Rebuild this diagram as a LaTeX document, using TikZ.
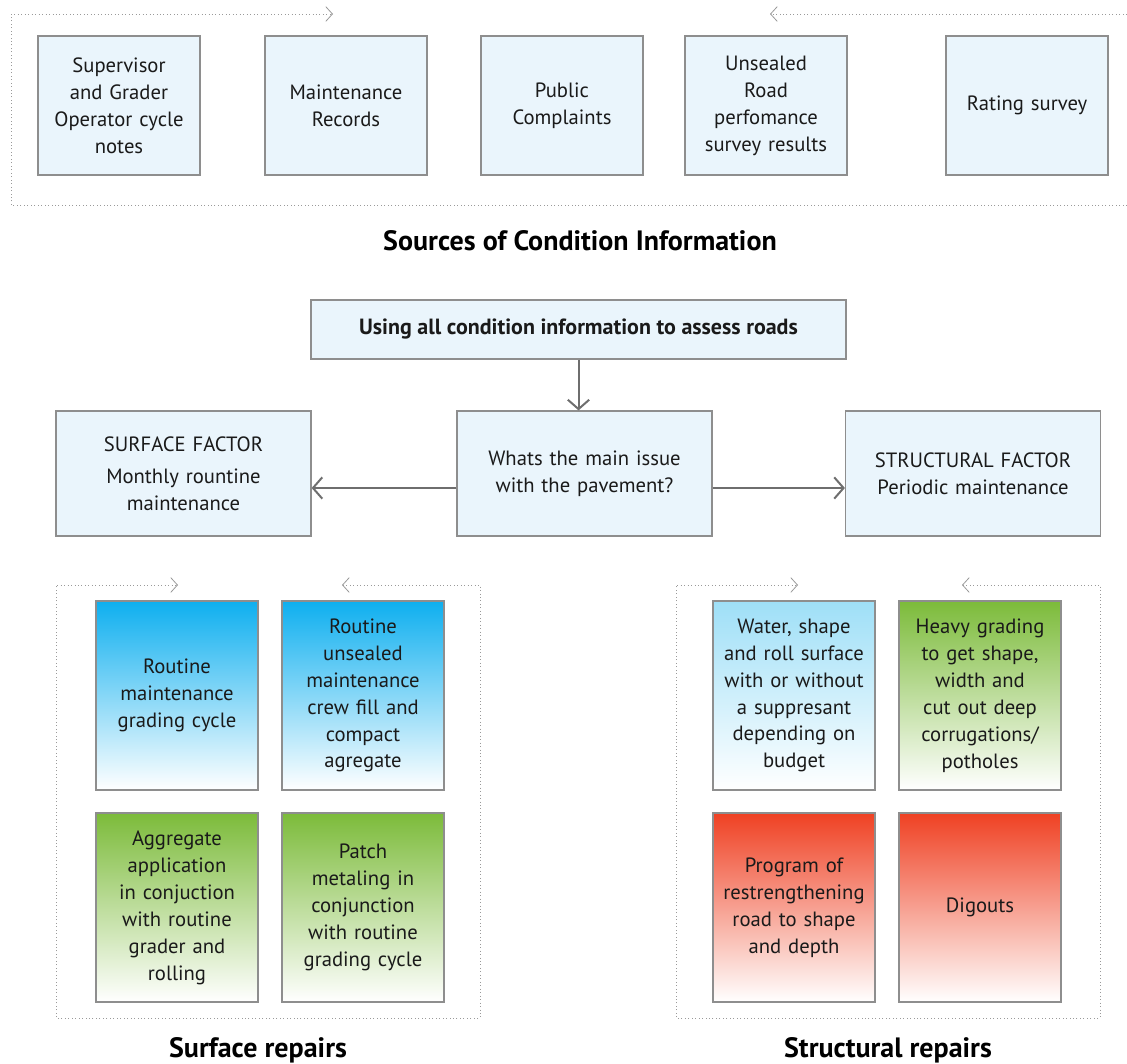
\documentclass[tikz,border=0pt]{standalone}
\usepackage{fontspec}
\setmainfont{PT Sans}
\usetikzlibrary{arrows.meta}
\definecolor{boxfill}{HTML}{EAF5FC}
\definecolor{boxline}{HTML}{8E8E8E}
\definecolor{txt}{HTML}{1A1A1A}
\definecolor{arrowgray}{HTML}{6E6E6E}
\definecolor{dotgray}{HTML}{9A9A9A}
\definecolor{cyanT}{HTML}{0EAFEF}
\definecolor{lblueT}{HTML}{9EDFF7}
\definecolor{greenT}{HTML}{7CBB3A}
\definecolor{redT}{HTML}{EF4123}
\tikzset{
  base/.style={draw=boxline, line width=0.9pt, align=center, text=txt, inner sep=0pt, font=\fontsize{15.5}{20.2}\selectfont},
  srcbox/.style={base, fill=boxfill, minimum width=121.5pt, minimum height=104.25pt, text width=118pt},
  midbox/.style={base, fill=boxfill, minimum width=191.25pt, minimum height=93.75pt, text width=185pt},
  repbox/.style={base, minimum width=121.5pt, minimum height=141.75pt, text width=118pt},
  bluegrad/.style={repbox, top color=cyanT, bottom color=white},
  lbluegrad/.style={repbox, top color=lblueT, bottom color=white},
  greengrad/.style={repbox, top color=greenT, bottom color=white},
  redgrad/.style={repbox, top color=redT, bottom color=white},
  frame/.style={draw=dotgray, line width=0.6pt, dotted, {Straight Barb[length=5pt,width=11pt,line width=0.6pt]}-{Straight Barb[length=5pt,width=11pt,line width=0.6pt]}},
  frameend/.style={draw=dotgray, line width=0.6pt, dotted, -{Straight Barb[length=5pt,width=11pt,line width=0.6pt]}},
  flow/.style={draw=arrowgray, line width=1.5pt, -{Straight Barb[length=7pt,width=16pt,line width=1.5pt]}},
  title/.style={font=\fontsize{21}{24}\selectfont\bfseries, text=black}
}
\begin{document}
\begin{tikzpicture}[x=0.75pt,y=-0.75pt]
\useasboundingbox (0,0) rectangle (1127,1063);
% top frame
\coordinate (tfA) at (1127,14);
\coordinate (tfB) at (770,14);
\coordinate (tfC) at (1127,205);
\coordinate (tfD) at (11,205);
\coordinate (tfE) at (11,14);
\coordinate (tfF) at (333,14);
\draw[frameend] (tfA) -- (tfB);
\draw[frameend] (tfC) -- (tfD) -- (tfE) -- (tfF);
% source boxes
\node[srcbox] (s1) at (119,105.5) {Supervisor\\and Grader\\Operator cycle\\notes};
\node[srcbox] (s2) at (346,105.5) {Maintenance\\Records};
\node[srcbox] (s3) at (562,105.5) {Public\\Complaints};
\node[srcbox] (s4) at (766,105.5) {Unsealed\\Road\\perfomance\\survey results};
\node[srcbox] (s5) at (1027,105.5) {Rating survey};
\node[title] (t1) at (580,241) {Sources of Condition Information};
% assess
\node[base, fill=boxfill, minimum width=401.25pt, minimum height=44.25pt, font=\fontsize{16.5}{20}\selectfont\bfseries] (using) at (578.5,329.5) {Using all condition information to assess roads};
\node[midbox] (mid) at (584.5,473.5) {Whats the main issue\\with the pavement?};
\node[midbox] (surf) at (183.5,473.5) {SURFACE FACTOR\\[4pt]Monthly rountine\\maintenance};
\node[midbox] (struc) at (973,473.5) {STRUCTURAL FACTOR\\Periodic maintenance};
\draw[flow] (using.south) -- (using.south |- mid.north);
\draw[flow] (mid.west |- 0,488) -- (surf.east |- 0,488);
\draw[flow] (mid.east |- 0,488) -- (struc.west |- 0,488);
% surface repairs
\coordinate (sfA) at (342,585);
\coordinate (sfB) at (480,585);
\coordinate (sfC) at (480,1018);
\coordinate (sfD) at (56,1018);
\coordinate (sfE) at (56,585);
\coordinate (sfF) at (178,585);
\draw[frame] (sfA) -- (sfB) -- (sfC) -- (sfD) -- (sfE) -- (sfF);
\node[bluegrad] (r1) at (177,695.5) {Routine\\maintenance\\grading cycle};
\node[bluegrad] (r2) at (363,695.5) {Routine\\unsealed\\maintenance\\crew fill and\\compact\\agregate};
\node[greengrad] (r3) at (177,907.5) {Aggregate\\application\\in conjuction\\with routine\\grader and\\rolling};
\node[greengrad] (r4) at (363,907.5) {Patch\\metaling in\\conjunction\\with routine\\grading cycle};
\node[title] (t2) at (258,1050) {Surface repairs};
% structural repairs
\coordinate (stA) at (962,585);
\coordinate (stB) at (1100,585);
\coordinate (stC) at (1100,1018);
\coordinate (stD) at (676,1018);
\coordinate (stE) at (676,585);
\coordinate (stF) at (798,585);
\draw[frame] (stA) -- (stB) -- (stC) -- (stD) -- (stE) -- (stF);
\node[lbluegrad] (q1) at (794,695.5) {Water, shape\\and roll surface\\with or without\\a suppresant\\depending on\\budget};
\node[greengrad] (q2) at (980,695.5) {Heavy grading\\to get shape,\\width and\\cut out deep\\corrugations/\\potholes};
\node[redgrad] (q3) at (794,907.5) {Program of\\restrengthening\\road to shape\\and depth\\[8pt]};
\node[redgrad] (q4) at (980,907.5) {Digouts\\[8pt]};
\node[title] (t3) at (888,1050) {Structural repairs};
\end{tikzpicture}
\end{document}
